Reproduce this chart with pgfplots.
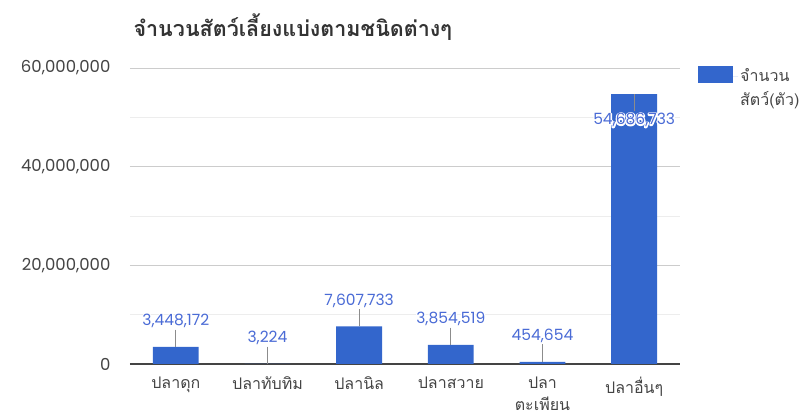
\documentclass[border=0pt]{standalone}
\usepackage{pgfplots}
\pgfplotsset{compat=1.18}
\usepackage{pgfplotstable}
\usepackage{fontspec}
\setmainfont[Script=Thai]{Loma}
\newfontfamily\numfont{Poppins}
\definecolor{barblue}{HTML}{3366CC}
\definecolor{lblblue}{HTML}{4A6BD6}
\definecolor{txtgray}{HTML}{444444}
\definecolor{titlegray}{HTML}{333333}
\newcommand{\halo}[1]{\rlap{\special{pdf:literal direct 1 Tr 2.6 w 1 j 1 1 1 RG}#1\special{pdf:literal direct 0 Tr}}#1}

\pgfplotstableread{
x y ep em off lab
0 3448172 3500000 0 26 3,448,172
1 3224 3500000 0 26 3,224
2 7607733 3500000 0 26 7,607,733
3 3854519 3500000 0 26 3,854,519
4 454654 3500000 0 26 454,654
5 54686733 0 3500000 -26 54,686,733
}\data

\begin{document}
\begin{tikzpicture}
\path[use as bounding box] (0,0) rectangle (807pt,417pt);
\begin{axis}[
  at={(130pt,53pt)}, anchor=south west,
  scale only axis, width=550pt, height=296pt,
  ybar, bar width=0.5,
  xmin=-0.5, xmax=5.5, ymin=0, ymax=60000000,
  xtick={0,1,2,3,4,5},
  xticklabels={ปลาดุก, ปลาทับทิม, ปลานิล, ปลาสวาย, {ปลา\\ตะเพียน}, ปลาอื่นๆ},
  ytick={0,20000000,40000000,60000000},
  minor ytick={10000000,30000000,50000000},
  scaled y ticks=false,
  yticklabel={\pgfmathprintnumber[fixed,precision=0,1000 sep={,},assume math mode=true]{\tick}},
  ymajorgrids, yminorgrids,
  major grid style={draw=black!20, line width=0.8pt},
  minor grid style={draw=black!7, line width=0.8pt},
  axis x line*=bottom, axis y line*=left,
  y axis line style={draw=none},
  x axis line style={draw=txtgray, line width=1.4pt, -},
  tick style={draw=none},
  xticklabel style={align=center, yshift=-5pt, font=\fontsize{16}{22}\selectfont, text=txtgray},
  yticklabel style={xshift=-16pt, font=\fontsize{16.5}{18}\selectfont\numfont, text=txtgray},
  title={จำนวนสัตว์เลี้ยงแบ่งตามชนิดต่างๆ},
  title style={at={(0,1)}, anchor=west, yshift=35pt, font=\fontsize{21.5}{24}\selectfont\bfseries, text=titlegray},
  legend style={draw=none, fill=none, at={(1,1)}, anchor=north west, xshift=15pt, yshift=4pt,
    font=\fontsize{16}{24}\selectfont, text=txtgray},
  legend cell align=left,
  legend image code/.code={\path (0pt,0pt) -- (40pt,0pt); \fill[barblue] (0pt,-7pt) rectangle (35pt,10pt);},
  clip=false,
]
\addplot[fill=barblue, draw=none,
  point meta=explicit symbolic,
  visualization depends on={\thisrow{off} \as \off},
  nodes near coords={\halo{\pgfplotspointmeta}},
  every node near coord/.append style={anchor=center, yshift=\off pt, text=lblblue, font=\fontsize{15.5}{18}\selectfont\numfont},
  error bars/.cd, y dir=both, y explicit, error mark=none,
  error bar style={draw=black!45, line width=0.8pt}]
  table[x=x, y=y, y error plus=ep, y error minus=em, meta=lab] {\data};
\addlegendentry{\parbox[t]{70pt}{จำนวน\\สัตว์(ตัว)}}
\end{axis}
\end{tikzpicture}
\end{document}
